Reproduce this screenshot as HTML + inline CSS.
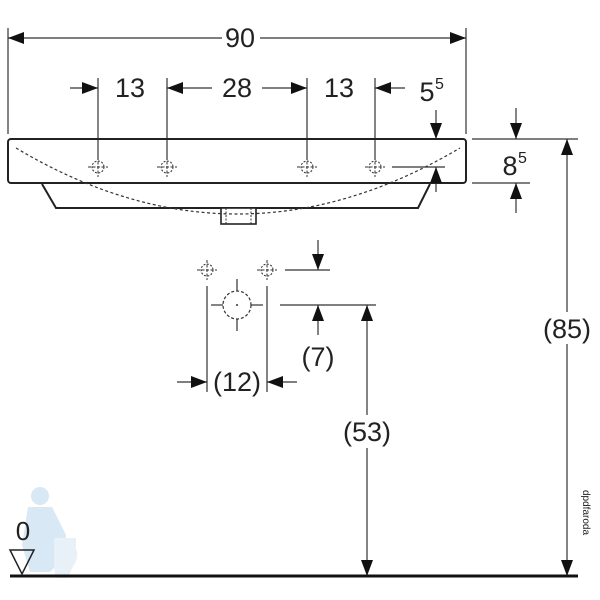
<!DOCTYPE html>
<html><head><style>
html,body{margin:0;padding:0;background:#fff}
svg{display:block}
text{font-family:"Liberation Sans",sans-serif;fill:#222}
</style></head><body>
<svg width="600" height="600" viewBox="0 0 600 600" xmlns="http://www.w3.org/2000/svg">
<defs>
<g id="ar"><polygon points="0,0 -16,-6 -16,6" fill="#111"/></g>
<g id="cr" stroke="#333" fill="none" stroke-width="1">
<circle r="6" stroke-dasharray="2,1.5"/>
<line x1="-10" y1="0" x2="10" y2="0" stroke-dasharray="3,1.5"/>
<line x1="0" y1="-10" x2="0" y2="10" stroke-dasharray="3,1.5"/>
</g>
</defs>
<!-- faint figure -->
<g fill="#cfe3f3" opacity="0.8">
<circle cx="40" cy="496" r="9"/>
<path d="M28,507 L52,507 L66,535 L62,560 L50,572 L30,572 L22,545 Z"/>
<path d="M54,538 h22 v10 q4,10 -4,20 l-4,10 h-12 l-2,-10 z" fill="#e4eef7"/>
</g>
<g stroke="#333" stroke-width="1.2" fill="none">
<line x1="8" y1="28" x2="8" y2="134"/>
<line x1="466" y1="28" x2="466" y2="134"/>
<line x1="8" y1="38" x2="222" y2="38"/>
<line x1="260" y1="38" x2="466" y2="38"/>
<line x1="98" y1="78" x2="98" y2="160"/>
<line x1="167" y1="78" x2="167" y2="160"/>
<line x1="307" y1="78" x2="307" y2="160"/>
<line x1="375" y1="78" x2="375" y2="160"/>
<line x1="70" y1="88" x2="98" y2="88"/>
<line x1="167" y1="88" x2="212" y2="88"/>
<line x1="262" y1="88" x2="307" y2="88"/>
<line x1="375" y1="88" x2="405" y2="88"/>
<line x1="472" y1="139" x2="578" y2="139"/>
<line x1="472" y1="183" x2="530" y2="183"/>
<line x1="516" y1="108" x2="516" y2="139"/>
<line x1="516" y1="183" x2="516" y2="213"/>
<line x1="436" y1="110" x2="436" y2="139"/>
<line x1="436" y1="167" x2="436" y2="192"/>
<line x1="392" y1="167" x2="445" y2="167"/>
<line x1="567" y1="139" x2="567" y2="312"/>
<line x1="567" y1="344" x2="567" y2="576"/>
<line x1="207" y1="286" x2="207" y2="392"/>
<line x1="267" y1="286" x2="267" y2="392"/>
<line x1="285" y1="270" x2="330" y2="270"/>
<line x1="280" y1="305" x2="376" y2="305"/>
<line x1="318" y1="240" x2="318" y2="270"/>
<line x1="318" y1="305" x2="318" y2="335"/>
<line x1="177" y1="382" x2="207" y2="382"/>
<line x1="267" y1="382" x2="297" y2="382"/>
<line x1="367" y1="305" x2="367" y2="415"/>
<line x1="367" y1="448" x2="367" y2="576"/>
<line x1="211" y1="305" x2="223" y2="305"/>
<line x1="251" y1="305" x2="263" y2="305"/>
<line x1="237" y1="279" x2="237" y2="291"/>
<line x1="237" y1="319" x2="237" y2="331"/>
</g>
<circle cx="237" cy="305" r="14" fill="none" stroke="#333" stroke-width="1.2" stroke-dasharray="3,2"/>
<circle cx="237" cy="305" r="1" fill="#333"/>
<rect x="8" y="139" width="458" height="44" rx="3" fill="none" stroke="#222" stroke-width="2"/>
<path d="M42,184 L56,208 L418,208 L430,184" fill="none" stroke="#222" stroke-width="2"/>
<rect x="221" y="208" width="35" height="16" fill="#fff" stroke="#222" stroke-width="1.6"/>
<path d="M226,208 v16 M251,208 v16" stroke="#333" stroke-dasharray="2,1.5"/>
<path d="M16,148 Q237,280 460,148" fill="none" stroke="#333" stroke-width="1.2" stroke-dasharray="3,2.5"/>
<use href="#cr" x="98" y="167"/><use href="#cr" x="167" y="167"/>
<use href="#cr" x="307" y="167"/><use href="#cr" x="375" y="167"/>
<use href="#cr" x="207" y="270"/><use href="#cr" x="267" y="270"/>
<use href="#ar" transform="translate(8,38) rotate(180)"/>
<use href="#ar" transform="translate(466,38)"/>
<use href="#ar" transform="translate(98,88)"/>
<use href="#ar" transform="translate(167,88) rotate(180)"/>
<use href="#ar" transform="translate(307,88)"/>
<use href="#ar" transform="translate(375,88) rotate(180)"/>
<use href="#ar" transform="translate(436,139) rotate(90)"/>
<use href="#ar" transform="translate(436,167) rotate(-90)"/>
<use href="#ar" transform="translate(516,139) rotate(90)"/>
<use href="#ar" transform="translate(516,183) rotate(-90)"/>
<use href="#ar" transform="translate(567,139) rotate(-90)"/>
<use href="#ar" transform="translate(567,576) rotate(90)"/>
<use href="#ar" transform="translate(318,270) rotate(90)"/>
<use href="#ar" transform="translate(318,305) rotate(-90)"/>
<use href="#ar" transform="translate(207,382)"/>
<use href="#ar" transform="translate(267,382) rotate(180)"/>
<use href="#ar" transform="translate(367,305) rotate(-90)"/>
<use href="#ar" transform="translate(367,576) rotate(90)"/>
<line x1="10" y1="576" x2="578" y2="576" stroke="#111" stroke-width="3"/>
<polygon points="10,550 34,550 22,574" fill="none" stroke="#222" stroke-width="1.5"/>
<g font-size="27" text-anchor="middle">
<text x="240" y="47">90</text>
<text x="130" y="97">13</text>
<text x="237" y="97">28</text>
<text x="339" y="97">13</text>
<text x="427" y="101">5</text>
<text x="510" y="175">8</text>
<text x="567" y="338">(85)</text>
<text x="318" y="366">(7)</text>
<text x="237" y="391">(12)</text>
<text x="367" y="441">(53)</text>
<text x="23" y="540" font-size="26">0</text>
</g>
<text x="435" y="89" font-size="16">5</text>
<text x="518" y="163" font-size="16">5</text>
<text x="583" y="490" font-size="10" fill="#bbb" transform="rotate(90 583 490)">dpdfaroda</text>
</svg>
</body></html>
